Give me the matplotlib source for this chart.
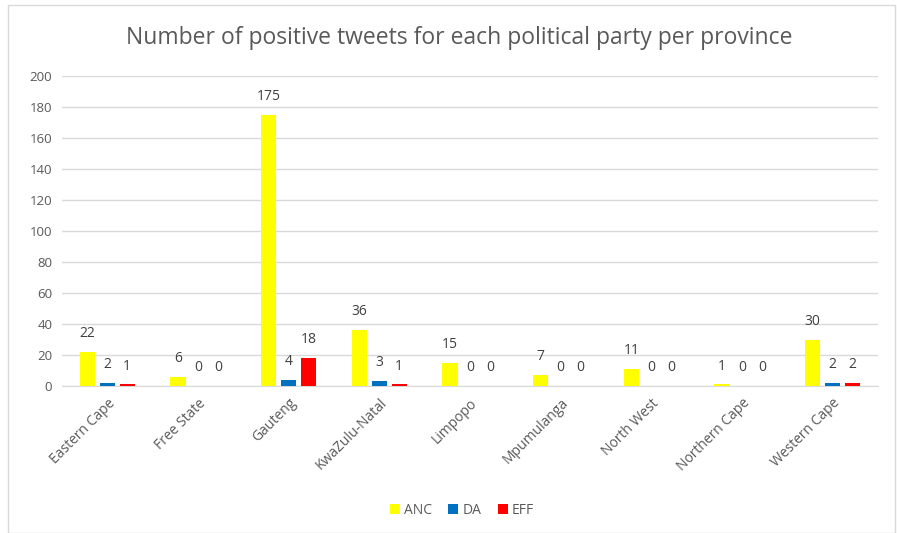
import matplotlib
matplotlib.use("Agg")
import matplotlib.pyplot as plt
import numpy as np
from matplotlib.patches import Rectangle

provinces = ["Eastern Cape", "Free State", "Gauteng", "KwaZulu-Natal", "Limpopo",
             "Mpumulanga", "North West", "Northern Cape", "Western Cape"]
anc = [22, 6, 175, 36, 15, 7, 11, 1, 30]
da = [2, 0, 4, 3, 0, 0, 0, 0, 2]
eff = [1, 0, 18, 1, 0, 0, 0, 0, 2]
series_names = ["ANC", "DA", "EFF"]
colors = ["#FFFF00", "#0070C0", "#FF0000"]
yticks = [0, 20, 40, 60, 80, 100, 120, 140, 160, 180, 200]

plt.rcParams['font.family'] = ['Open Sans', 'DejaVu Sans']
txt = "#595959"

fig = plt.figure(figsize=(8.97, 5.33), dpi=100)
fig.patches.append(Rectangle((8/897, 0), 1 - 8/897 - 2/897, 1 - 5/533, transform=fig.transFigure,
                             fill=False, edgecolor="#d9d9d9", linewidth=1))
ax = fig.add_axes([62/897, 1 - 386/533, (878 - 62)/897, (386 - 76)/533])

x = np.arange(len(provinces))
w = 0.17
offs = [-0.22, 0.0, 0.22]
for vals, off, c, name in zip([anc, da, eff], offs, colors, series_names):
    bars = ax.bar(x + off, vals, width=w, color=c, label=name, zorder=3)
    for b, v in zip(bars, vals):
        ax.text(b.get_x() + b.get_width()/2, v + 7, str(v), ha="center", va="bottom",
                fontsize=10, color="#404040")

ax.set_xlim(-0.5, len(provinces) - 0.5)
ax.set_ylim(0, 200)
ax.set_yticks(yticks)
ax.set_yticklabels([str(t) for t in yticks], fontsize=9.5, color=txt)
ax.grid(axis="y", color="#d9d9d9", linewidth=1, zorder=0)
ax.set_xticks(x)
ax.set_xticklabels(provinces, rotation=45, ha="right", va="top", rotation_mode="anchor",
                   fontsize=10, color=txt)
ax.tick_params(length=0, pad=7)
for s in ["top", "right", "left"]:
    ax.spines[s].set_visible(False)
ax.spines["bottom"].set_color("#d9d9d9")

fig.text(459/897, 1 - 38/533, "Number of positive tweets for each political party per province",
         ha="center", va="center", fontsize=16.5, color=txt)

leg = fig.legend(loc="center", bbox_to_anchor=(462/897, 1 - 510/533), ncol=3, frameon=False,
                 fontsize=10, handlelength=0.7, handleheight=0.7, handletextpad=0.3,
                 columnspacing=1.2)
for t in leg.get_texts():
    t.set_color(txt)

fig.savefig("out.png", dpi=100)
